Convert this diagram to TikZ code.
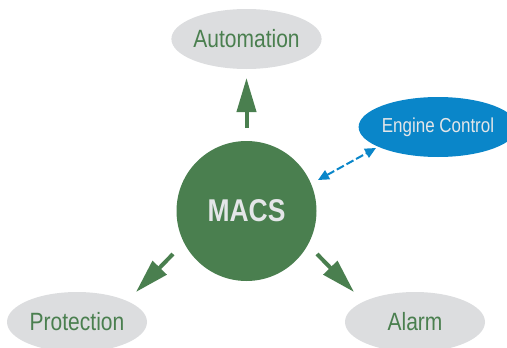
\documentclass[tikz,border=0pt]{standalone}
\usepackage{fontspec}
\setmainfont{Liberation Sans}[FakeStretch=0.84]
\usetikzlibrary{shapes.geometric,arrows.meta}
\definecolor{mgreen}{HTML}{4A7F4F}
\definecolor{mgray}{HTML}{DCDDDF}
\definecolor{mblue}{HTML}{0A86C9}
\definecolor{mlight}{HTML}{E4E6E8}
\tikzset{
  sub/.style={ellipse, fill=mgray, minimum width=140pt, minimum height=60pt, inner sep=0pt, text=mgreen, font=\fontsize{25}{25}\selectfont},
  eng/.style={ellipse, fill=mblue, minimum width=138pt, minimum height=60pt, inner sep=0pt, text=mlight, font=\fontsize{20.2}{20.2}\selectfont},
  hub/.style={circle, fill=mgreen, minimum size=140pt, inner sep=0pt, text=mlight, font=\fontsize{31.5}{31.5}\selectfont\bfseries},
  garrow/.style={draw=mgreen, line width=4pt, -{Triangle[length=34pt,width=19pt]}},
  barrow/.style={draw=mblue, line width=2pt, dash pattern=on 8pt off 3pt, {Triangle[length=11pt,width=10pt]}-{Triangle[length=11pt,width=10pt]}}
}
\begin{document}
\begin{tikzpicture}[x=1pt,y=-1pt]
\useasboundingbox (0,0) rectangle (507,348);
\node[hub] (macs) at (246.5,211) {MACS};
\node[sub] (auto) at (246.5,39) {Automation};
\node[sub] (prot) at (77,322) {Protection};
\node[sub] (alarm) at (415,322) {Alarm};
\node[eng] (eng) at (438,127) {Engine Control};
\coordinate (a1) at (246.5,128);
\coordinate (a2) at (246.5,78);
\coordinate (l1) at (173,254);
\coordinate (l2) at (136,292);
\coordinate (r1) at (317,254);
\coordinate (r2) at (354,292);
\coordinate (b1) at (318,180);
\coordinate (b2) at (376,148);
\draw[garrow] (a1) -- (a2);
\draw[garrow] (l1) -- (l2);
\draw[garrow] (r1) -- (r2);
\draw[barrow] (b1) -- (b2);
\end{tikzpicture}
\end{document}
